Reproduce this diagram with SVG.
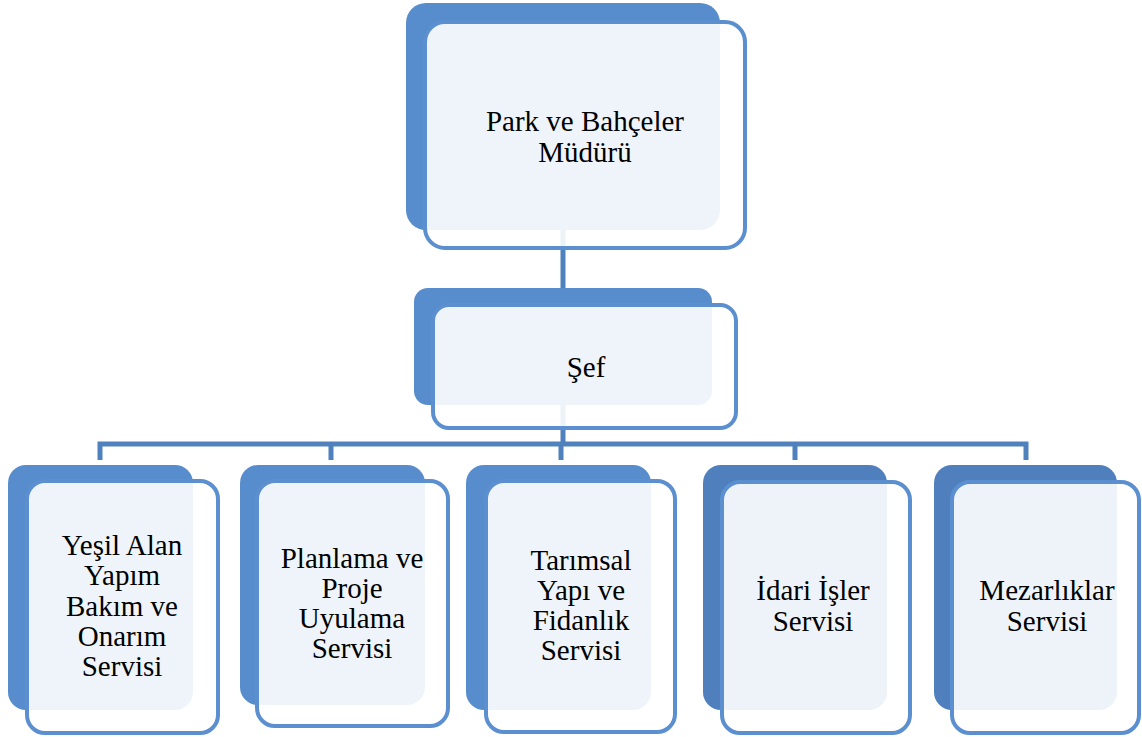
<svg xmlns="http://www.w3.org/2000/svg" width="1142" height="737" viewBox="0 0 1142 737" font-family="'Liberation Serif', 'Times New Roman', 'DejaVu Serif', serif">
<style>
.back{fill:#588DCD}
.back2{fill:#4F80BD}
.front{fill:#FFFFFF;fill-opacity:0.9;stroke:#5B8FCF;stroke-width:4}
.conn{stroke:#4F81BD;stroke-width:5;fill:none}
.t{font-family:'Liberation Serif','Times New Roman','DejaVu Serif',serif;font-size:29px;fill:#000;text-anchor:middle}
</style>
<rect width="1142" height="737" fill="#FFFFFF"/>
<g id="connectors">
<line class="conn" x1="563" y1="228" x2="563" y2="290"/>
<line class="conn" x1="563" y1="400" x2="563" y2="444"/>
<polyline class="conn" points="100,460 100,444 1026,444 1026,460"/>
<line class="conn" x1="331" y1="444" x2="331" y2="460"/>
<line class="conn" x1="561" y1="444" x2="561" y2="460"/>
<line class="conn" x1="795" y1="444" x2="795" y2="460"/>
</g>
<g id="node-mudur">
<rect class="back" x="406" y="3" width="314" height="227" rx="20"/>
<rect class="front" x="425" y="22" width="320" height="226" rx="20"/>
<text class="t" x="585" y="131">Park ve Bahçeler</text>
<text class="t" x="585" y="162">Müdürü</text>
</g>
<g id="node-sef">
<rect class="back" x="414" y="288" width="298" height="117" rx="14"/>
<rect class="front" x="433" y="305" width="303" height="123" rx="16"/>
<text class="t" x="586" y="377">Şef</text>
</g>
<g id="node-yesil">
<rect class="back" x="8" y="465" width="185" height="245" rx="18"/>
<rect class="front" x="27" y="481" width="191" height="252" rx="18"/>
<text class="t" x="122" y="555">Yeşil Alan</text>
<text class="t" x="122" y="585">Yapım</text>
<text class="t" x="122" y="616">Bakım ve</text>
<text class="t" x="122" y="646">Onarım</text>
<text class="t" x="122" y="676">Servisi</text>
</g>
<g id="node-planlama">
<rect class="back" x="240" y="465" width="185" height="240" rx="18"/>
<rect class="front" x="257" y="481" width="191" height="245" rx="18"/>
<text class="t" x="352" y="568">Planlama ve</text>
<text class="t" x="352" y="598">Proje</text>
<text class="t" x="352" y="628">Uyulama</text>
<text class="t" x="352" y="658">Servisi</text>
</g>
<g id="node-tarimsal">
<rect class="back" x="466" y="465" width="185" height="245" rx="18"/>
<rect class="front" x="486" y="481" width="189" height="251" rx="18"/>
<text class="t" x="581" y="570">Tarımsal</text>
<text class="t" x="581" y="600">Yapı ve</text>
<text class="t" x="581" y="630">Fidanlık</text>
<text class="t" x="581" y="660">Servisi</text>
</g>
<g id="node-idari">
<rect class="back2" x="703" y="465" width="184" height="245" rx="18"/>
<rect class="front" x="722" y="482" width="188" height="251" rx="18"/>
<text class="t" x="813" y="600">İdari İşler</text>
<text class="t" x="813" y="631">Servisi</text>
</g>
<g id="node-mezarlik">
<rect class="back2" x="934" y="465" width="183" height="245" rx="18"/>
<rect class="front" x="952" y="482" width="187" height="251" rx="18"/>
<text class="t" x="1047" y="600">Mezarlıklar</text>
<text class="t" x="1047" y="631">Servisi</text>
</g>
</svg>
